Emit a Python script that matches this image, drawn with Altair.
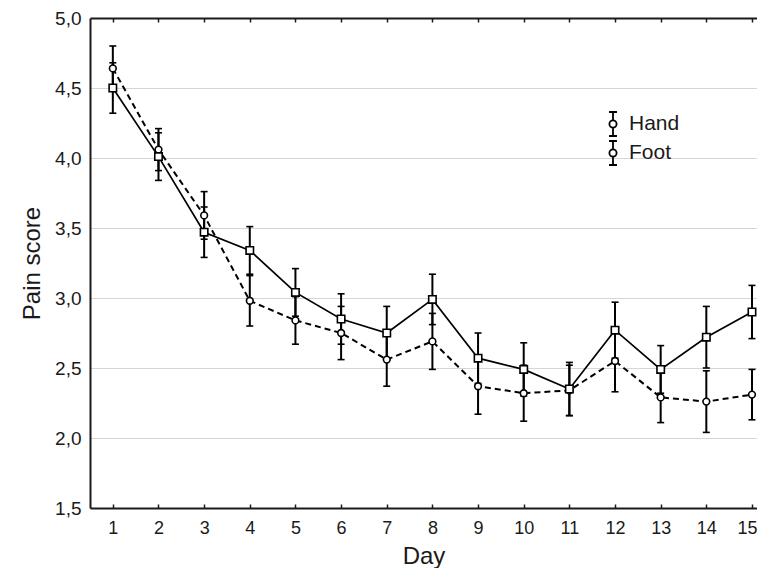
import altair as alt
import pandas as pd

# ---- data ----
days = list(range(1, 16))
hand_mean = [4.50, 4.01, 3.47, 3.34, 3.04, 2.85, 2.75, 2.99, 2.57, 2.49, 2.35, 2.77, 2.49, 2.72, 2.90]
hand_err = [0.18, 0.17, 0.18, 0.17, 0.17, 0.18, 0.19, 0.18, 0.18, 0.19, 0.19, 0.20, 0.17, 0.22, 0.19]
foot_mean = [4.64, 4.06, 3.59, 2.98, 2.84, 2.75, 2.56, 2.69, 2.37, 2.32, 2.34, 2.55, 2.29, 2.26, 2.31]
foot_err = [0.16, 0.15, 0.17, 0.18, 0.17, 0.19, 0.19, 0.20, 0.20, 0.20, 0.18, 0.22, 0.18, 0.22, 0.18]
series_names = ["Hand", "Foot"]
y_ticks = [1.5, 2.0, 2.5, 3.0, 3.5, 4.0, 4.5, 5.0]

rows = []
for name, means, errs in [("Hand", hand_mean, hand_err), ("Foot", foot_mean, foot_err)]:
    for d, m, e in zip(days, means, errs):
        rows.append({"day": d, "series": name, "value": m, "lo": m - e, "hi": m + e})
df = pd.DataFrame(rows)

FONT = "Liberation Sans"
INK = "#1a1a1a"

x_scale = alt.Scale(domain=[0.5, 15.11], nice=False, zero=False)
y_scale = alt.Scale(domain=[1.5, 5.0], nice=False, zero=False)

y_axis = alt.Axis(
    values=y_ticks,
    labelExpr="replace(format(datum.value, '.1f'), '.', ',')",
    title="Pain score",
    grid=True, gridColor="#d6d6d6", gridWidth=1,
    domainColor=INK, domainWidth=2,
    ticks=False, tickSize=0,
    labelPadding=9, labelFontSize=19, labelFont=FONT, labelColor=INK,
    titleFontSize=24, titleFont=FONT, titleFontWeight="normal", titleColor=INK,
    titlePadding=10,
)
x_axis_bottom = alt.Axis(
    values=days, format="d", title="Day",
    grid=False, ticks=False, tickSize=0,
    domainColor=INK, domainWidth=2,
    labelPadding=11, labelFontSize=18, labelFont=FONT, labelColor=INK,
    labelOverlap=False, labelFlush=False,
    labelAlign=alt.condition("datum.value == 15", alt.value("right"), alt.value("center")),
    labelOffset=alt.condition("datum.value == 15", alt.value(5), alt.value(0)),
    titleFontSize=24, titleFont=FONT, titleFontWeight="normal", titleColor=INK,
    titlePadding=7,
)
x_axis_top = alt.Axis(
    orient="top", values=days, labels=False, ticks=False, tickSize=0,
    grid=False, domainColor=INK, domainWidth=2, title="",
)
# short inward tick marks along the bottom and top frame
x_ticks_bottom = alt.Axis(
    orient="bottom", values=days, labels=False, domain=False, grid=False,
    ticks=True, tickSize=4, tickColor=INK, tickWidth=1.5, offset=-4, title="",
)
x_ticks_top = alt.Axis(
    orient="top", values=days, labels=False, domain=False, grid=False,
    ticks=True, tickSize=4, tickColor=INK, tickWidth=1.5, offset=-4, title="",
)

base = alt.Chart(df)
Y = lambda f: alt.Y(f"{f}:Q", scale=y_scale, axis=y_axis)
Xn = alt.X("day:Q", scale=x_scale, axis=None)


def sel(name):
    return base.transform_filter(alt.datum.series == name)


line_hand = sel("Hand").mark_line(color="black", strokeWidth=1.7).encode(
    x=alt.X("day:Q", scale=x_scale, axis=x_axis_bottom), y=Y("value")
)
line_foot = sel("Foot").mark_line(color="black", strokeWidth=2, strokeDash=[6, 4]).encode(
    x=Xn, y=Y("value")
)
err_rule = base.mark_rule(color="black", strokeWidth=2).encode(
    x=Xn, y=Y("lo"), y2="hi"
)
cap_lo = base.mark_tick(orient="horizontal", color="black", size=7, thickness=1.6, opacity=1).encode(
    x=Xn, y=Y("lo")
)
cap_hi = base.mark_tick(orient="horizontal", color="black", size=7, thickness=1.6, opacity=1).encode(
    x=Xn, y=Y("hi")
)
pts_hand = sel("Hand").mark_point(
    shape="square", size=55, filled=True, fill="white", stroke="black", strokeWidth=1.6, opacity=1
).encode(x=Xn, y=Y("value"))
pts_foot = sel("Foot").mark_point(
    shape="circle", size=45, filled=True, fill="white", stroke="black", strokeWidth=1.6, opacity=1
).encode(x=Xn, y=Y("value"))

# legend icon: error bar with a circle in the middle
ICON = ("M-0.33,-1H0.33M0,-1V-0.3M0,0.3V1M-0.33,1H0.33"
        "M0.3,0A0.3,0.3 0 1,1 -0.3,0A0.3,0.3 0 1,1 0.3,0")
legend_layer = base.transform_filter("false").mark_point(
    color="black", strokeWidth=1.8, opacity=1
).encode(
    x=Xn, y=Y("value"),
    shape=alt.Shape(
        "series:N",
        scale=alt.Scale(domain=series_names, range=[ICON, ICON]),
        legend=alt.Legend(
            title=None, orient="none", legendX=510, legendY=93, padding=0,
            symbolSize=576, symbolStrokeColor="black", symbolStrokeWidth=1.8,
            symbolOpacity=1,
            labelFontSize=21, labelFont=FONT, labelColor=INK, labelOffset=3,
            rowPadding=-5,
        ),
    ),
)
empty = base.transform_filter("false")
top_axis_layer = empty.mark_rule(strokeOpacity=0).encode(
    x=alt.X("day:Q", scale=x_scale, axis=x_axis_top), y=Y("value")
)
bottom_ticks_layer = empty.mark_rule(strokeOpacity=0).encode(
    x=alt.X("day:Q", scale=x_scale, axis=x_ticks_bottom), y=Y("value")
)
top_ticks_layer = empty.mark_rule(strokeOpacity=0).encode(
    x=alt.X("day:Q", scale=x_scale, axis=x_ticks_top), y=Y("value")
)

chart = (
    alt.layer(line_foot, line_hand, err_rule, cap_lo, cap_hi, pts_foot, pts_hand,
              legend_layer, top_axis_layer, bottom_ticks_layer, top_ticks_layer)
    .resolve_axis(x="independent")
    .properties(
        width=667, height=490,
        autosize=alt.AutoSizeParams(type="none"),
        padding={"left": 82, "top": 10, "right": 0, "bottom": 60},
        background="white",
    )
    .configure_view(stroke="transparent")
)

chart.save("out.html", embed_options={"renderer": "svg", "actions": False})
